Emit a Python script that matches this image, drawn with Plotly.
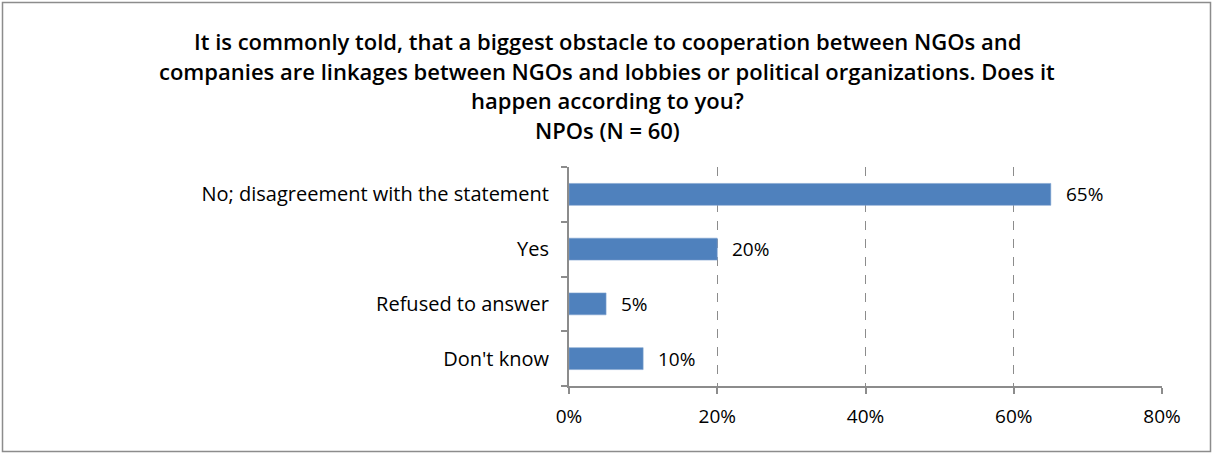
import plotly.graph_objects as go

categories = ["No; disagreement with the statement", "Yes", "Refused to answer", "Don't know"]
shares = [65, 20, 5, 10]
x_ticks = [0, 20, 40, 60, 80]
x_tick_labels = ["0%", "20%", "40%", "60%", "80%"]
title_lines = [
    "It is commonly told, that a biggest obstacle to cooperation between NGOs and",
    "companies are linkages between NGOs and lobbies or political organizations. Does it",
    "happen according to you?",
    "NPOs (N = 60)",
]

W, H = 1213, 454
L, R, T, B = 569, 51, 167, 68
plot_w = W - L - R
plot_h = H - T - B

FONT = "Open Sans, Lato, sans-serif"
GRAY = "#8c8c8c"


def px_x(p):
    return (p - L) / plot_w


def px_y(p):
    return (H - B - p) / plot_h


fig = go.Figure()
fig.add_trace(go.Bar(
    x=shares,
    y=categories,
    orientation="h",
    width=0.4,
    marker=dict(color="#4f81bd", line=dict(color="#7fa3d0", width=0.6)),
    hoverinfo="skip",
))

# value labels to the right of each bar
for cat, val in zip(categories, shares):
    fig.add_annotation(
        x=val, y=cat, xref="x", yref="y",
        text=f"{val}%", showarrow=False,
        xanchor="left", xshift=13,
        font=dict(family=FONT, size=19, color="black"),
    )

# title block, one line per annotation, centred over the whole frame
title_y_px = [41, 71, 100, 130]
for line, ypx in zip(title_lines, title_y_px):
    fig.add_annotation(
        x=px_x(607), y=px_y(ypx), xref="paper", yref="paper",
        text=line, showarrow=False, xanchor="center", yanchor="middle",
        font=dict(family=FONT, size=22, color="black", weight=600),
    )

# chart frame
fig.add_shape(
    type="rect", xref="paper", yref="paper",
    x0=px_x(2.5), x1=px_x(1210.5), y0=px_y(451.5), y1=px_y(2.5),
    line=dict(color=GRAY, width=1.5), fillcolor="rgba(0,0,0,0)", layer="below",
)

fig.update_layout(
    width=W, height=H,
    margin=dict(l=L, r=R, t=T, b=B),
    paper_bgcolor="white", plot_bgcolor="white",
    showlegend=False,
    font=dict(family=FONT, size=19, color="black"),
    xaxis=dict(
        range=[0, 80],
        tickvals=x_ticks, ticktext=x_tick_labels,
        showgrid=True, gridcolor=GRAY, griddash="dash", gridwidth=1,
        showline=True, linecolor=GRAY, linewidth=2,
        ticks="outside", ticklen=6, tickcolor=GRAY, tickwidth=2,
        zeroline=False, tickfont=dict(size=19),
        ticklabelstandoff=6,
    ),
    yaxis=dict(
        categoryorder="array", categoryarray=categories[::-1],
        showline=True, linecolor=GRAY, linewidth=2,
        ticks="outside", ticklen=6, tickcolor=GRAY, tickwidth=2,
        showgrid=False, zeroline=False,
        tickson="boundaries",
        tickfont=dict(size=20),
        ticklabelstandoff=14,
    ),
)

fig.write_html("out.html")
